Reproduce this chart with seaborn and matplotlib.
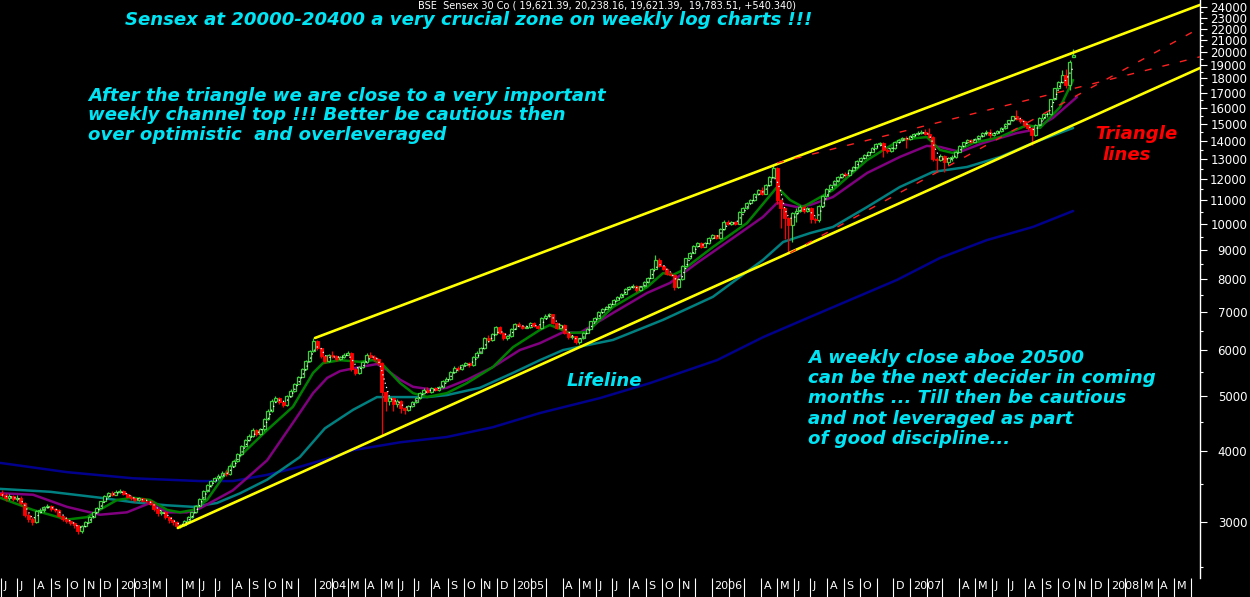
import numpy as np
import pandas as pd
import matplotlib
matplotlib.use("Agg")
import matplotlib.pyplot as plt
import matplotlib.transforms as mtransforms
from matplotlib.ticker import FixedLocator, FuncFormatter, NullFormatter
import seaborn as sns

# ---------------- data (weekly BSE Sensex) ----------------
start_week = "2002-06-03"
first_open = 3380
last_open = 19621.39

closes = [
    3350, 3300, 3330, 3290, 3310, 3240, 3090, 3040, 3000, 3140,
    3150, 3185, 3200, 3160, 3150, 3080, 3040, 3010, 2985, 2960,
    2895, 2950, 3000, 3060, 3120, 3180, 3260, 3330, 3370, 3350,
    3390, 3400, 3360, 3320, 3300, 3280, 3300, 3270, 3260, 3230,
    3160, 3110, 3130, 3060, 3020, 3000, 2950, 2960, 3010, 3060,
    3120, 3200, 3290, 3400, 3480, 3540, 3580, 3620, 3660, 3640,
    3760, 3840, 3950, 4080, 4180, 4250, 4350, 4280, 4360, 4550,
    4700, 4900, 4960, 4870, 4820, 5000, 5100, 5250, 5400, 5560,
    5750, 5980, 6230, 6050, 5870, 5740, 5900, 5860, 5800, 5840,
    5900, 5950, 5560, 5480, 5620, 5720, 5900, 5850, 5800, 5700,
    5070, 4900, 4950, 4830, 4900, 4750, 4720, 4800, 4880, 4950,
    5050, 5120, 5080, 5150, 5120, 5170, 5300, 5350, 5500, 5600,
    5560, 5650, 5700, 5650, 5850, 5950, 6050, 6300, 6250, 6400,
    6600, 6450, 6300, 6350, 6550, 6680, 6620, 6580, 6600, 6700,
    6620, 6560, 6850, 6900, 6950, 6700, 6580, 6650, 6450, 6330,
    6350, 6200, 6300, 6450, 6550, 6750, 6850, 7000, 7100, 7150,
    7250, 7350, 7450, 7550, 7700, 7750, 7800, 7650, 7780, 7900,
    8050, 8350, 8650, 8450, 8350, 8180, 8150, 7750, 8000, 8450,
    8700, 8900, 9150, 9250, 9120, 9250, 9450, 9550, 9450, 9800,
    10100, 10000, 10080, 10000, 10500, 10650, 10900, 11000, 11300, 11450,
    11300, 11700, 12100, 12550, 11000, 10650, 10250, 9950, 10450, 10550,
    10700, 10550, 10650, 10200, 10150, 10750, 11200, 11500, 11700, 11900,
    12100, 12250, 12200, 12450, 12600, 12900, 13050, 13200, 13400, 13600,
    13800, 13850, 13500, 13450, 13600, 13900, 14050, 14150, 14100, 14250,
    14400, 14450, 14500, 14400, 14200, 13000, 12950, 13150, 12850, 13050,
    13100, 13400, 13700, 13900, 14050, 13950, 14100, 14250, 14450, 14500,
    14300, 14450, 14550, 14750, 15000, 15200, 15450, 15300, 15150, 14900,
    14750, 14300, 14900, 15320, 15590, 15600, 16560, 17290, 17770, 18280,
    17560, 19243, 19783.51,
]
highs = [
    3420, 3370, 3360, 3350, 3340, 3330, 3250, 3110, 3060, 3150,
    3170, 3200, 3230, 3220, 3180, 3160, 3090, 3060, 3030, 3000,
    2970, 2960, 3010, 3070, 3130, 3190, 3270, 3340, 3390, 3400,
    3410, 3430, 3410, 3370, 3340, 3310, 3320, 3310, 3290, 3280,
    3240, 3170, 3150, 3140, 3070, 3040, 3010, 2980, 3020, 3070,
    3130, 3210, 3300, 3410, 3500, 3560, 3600, 3640, 3680, 3700,
    3780, 3860, 3970, 4100, 4200, 4280, 4380, 4360, 4380, 4570,
    4730, 4930, 4990, 4980, 4890, 5020, 5130, 5270, 5420, 5590,
    5780, 6010, 6300, 6250, 6070, 5900, 5920, 5980, 5880, 5870,
    5930, 5990, 5970, 5600, 5640, 5740, 5930, 5960, 5880, 5820,
    5720, 5100, 5000, 4970, 4930, 4920, 4780, 4820, 4900, 4980,
    5080, 5150, 5180, 5170, 5180, 5190, 5320, 5380, 5520, 5630,
    5640, 5680, 5730, 5730, 5870, 5980, 6080, 6330, 6380, 6430,
    6630, 6620, 6470, 6380, 6570, 6710, 6720, 6650, 6640, 6730,
    6720, 6640, 6880, 6950, 6990, 6960, 6720, 6680, 6670, 6470,
    6380, 6370, 6320, 6470, 6580, 6770, 6880, 7030, 7130, 7190,
    7280, 7380, 7480, 7580, 7730, 7790, 7840, 7830, 7800, 7930,
    8080, 8380, 8830, 8700, 8480, 8380, 8230, 8170, 8030, 8480,
    8730, 8930, 9180, 9300, 9280, 9280, 9480, 9600, 9580, 9830,
    10150, 10150, 10120, 10120, 10530, 10700, 10950, 11050, 11350, 11500,
    11600, 11750, 12150, 12700, 12600, 11050, 10700, 10300, 10500, 10650,
    10800, 10780, 10720, 10700, 10300, 10800, 11250, 11550, 11750, 11950,
    12150, 12300, 12350, 12500, 12650, 12950, 13100, 13250, 13450, 13650,
    13850, 13900, 13900, 13600, 13650, 13950, 14100, 14200, 14250, 14300,
    14450, 14550, 14600, 14650, 14720, 14250, 13100, 13250, 13200, 13100,
    13200, 13450, 13750, 13950, 14100, 14100, 14150, 14300, 14500, 14600,
    14700, 14500, 14600, 14800, 15050, 15250, 15500, 15850, 15400, 15200,
    14950, 14800, 14950, 15400, 15650, 15750, 16600, 17350, 17850, 18650,
    18700, 19400, 20238.16,
]
lows = [
    3320, 3270, 3280, 3260, 3270, 3220, 3060, 3000, 2960, 2990,
    3110, 3130, 3170, 3140, 3120, 3060, 3010, 2990, 2960, 2930,
    2860, 2870, 2940, 2990, 3050, 3110, 3170, 3250, 3310, 3330,
    3340, 3370, 3340, 3300, 3280, 3250, 3260, 3250, 3240, 3210,
    3140, 3080, 3090, 3040, 2990, 2970, 2930, 2930, 2950, 3000,
    3050, 3110, 3190, 3280, 3390, 3460, 3520, 3560, 3600, 3610,
    3630, 3740, 3830, 3940, 4060, 4160, 4230, 4240, 4260, 4340,
    4530, 4680, 4870, 4840, 4780, 4800, 4980, 5080, 5230, 5380,
    5540, 5730, 5960, 6000, 5830, 5700, 5720, 5830, 5760, 5770,
    5820, 5880, 5520, 5430, 5460, 5600, 5700, 5820, 5760, 5660,
    4270, 4700, 4820, 4700, 4780, 4660, 4650, 4700, 4780, 4860,
    4930, 5030, 5060, 5060, 5090, 5100, 5150, 5280, 5330, 5480,
    5530, 5540, 5630, 5620, 5630, 5830, 5930, 6030, 6200, 6230,
    6380, 6420, 6250, 6260, 6330, 6530, 6590, 6540, 6560, 6580,
    6590, 6530, 6540, 6830, 6880, 6670, 6550, 6560, 6400, 6290,
    6280, 6160, 6150, 6280, 6430, 6530, 6730, 6830, 6980, 7080,
    7130, 7230, 7330, 7430, 7530, 7680, 7730, 7610, 7630, 7760,
    7880, 8030, 8330, 8400, 8300, 8130, 8100, 7650, 7720, 7980,
    8430, 8680, 8880, 9120, 9080, 9100, 9230, 9420, 9400, 9430,
    9780, 9950, 9950, 9950, 9980, 10480, 10620, 10850, 10980, 11250,
    11250, 11280, 11680, 12050, 10850, 9850, 9400, 8930, 9300, 10100,
    10500, 10450, 10500, 10050, 10050, 10100, 10720, 11150, 11450, 11650,
    11850, 12050, 12100, 12150, 12400, 12550, 12850, 13000, 13150, 13350,
    13550, 13700, 13100, 13300, 13400, 13550, 13850, 14000, 13600, 14050,
    14200, 14350, 14400, 14350, 14150, 12900, 12400, 12900, 12320, 12700,
    12900, 13050, 13350, 13650, 13850, 13850, 13900, 14050, 14200, 14350,
    14150, 14250, 14400, 14500, 14700, 14950, 15150, 15250, 15050, 14800,
    14600, 13780, 14250, 14850, 15250, 15400, 15550, 16500, 17250, 17700,
    17350, 17150, 19621.39,
]

# moving averages (x = week number from start_week)
green_w = [-0.5, 8.2, 17.1, 22.4, 30.3, 34.5, 39.0, 43.5, 46.9, 50.3, 54.0, 60.8, 69.8,
           76.6, 81.9, 84.5, 89.0, 94.2, 97.7, 100.3, 104.8, 108.2, 111.9, 117.1, 122.4,
           129.2, 134.5, 141.6, 144.2, 149.5, 154.0, 160.8, 169.8, 174.0, 176.6, 179.2,
           187.1, 196.1, 204.0, 207.4, 210.8, 218.7, 227.7, 236.3, 243.4, 246.9, 250.3,
           255.6, 262.7, 269.8, 273.2, 278.5, 281.9]
green_v = [3310, 3150, 3030, 3060, 3280, 3310, 3280, 3150, 3120, 3150, 3280, 3810, 4350,
           4780, 5480, 5700, 5770, 5730, 5770, 5660, 5260, 5050, 4970, 5050, 5260,
           5610, 6080, 6520, 6650, 6440, 6460, 7150, 7750, 8200, 8140, 8300,
           9110, 10040, 11610, 11020, 10710, 11470, 12950, 14040, 14210, 13490, 13320,
           13870, 14210, 14920, 14740, 16040, 17890]
purple_w = [-0.5, 8.2, 17.1, 25.8, 32.9, 39.0, 43.5, 48.7, 52.1, 60.8, 69.8, 76.6, 81.9,
            85.6, 89.0, 94.2, 98.7, 100.3, 104.8, 108.2, 113.5, 117.1, 122.4, 129.2, 136.3,
            141.6, 147.7, 152.1, 160.8, 169.8, 175.8, 182.9, 191.6, 200.3, 204.0, 209.2,
            212.7, 218.7, 227.7, 236.3, 243.4, 246.9, 252.1, 258.2, 267.1, 271.3, 276.6,
            282.9]
purple_v = [3370, 3350, 3190, 3090, 3120, 3240, 3120, 3120, 3170, 3410, 3850, 4480, 5050,
            5370, 5520, 5610, 5680, 5610, 5330, 5180, 5120, 5160, 5330, 5610, 6010,
            6180, 6460, 6440, 6980, 7570, 7880, 8540, 9370, 10290, 10890, 10710,
            10800, 11150, 12290, 13110, 13710, 13650, 13380, 13870, 14440, 14620, 15350,
            16700]
teal_w = [-0.5, 12.7, 25.8, 34.5, 43.4, 50.3, 56.6, 62.7, 69.8, 78.4, 85.0, 92.4, 98.7,
          111.9, 117.1, 125.8, 134.5, 141.6, 147.7, 160.8, 174.0, 187.1, 200.3, 205.6,
          212.7, 218.7, 227.7, 236.3, 245.0, 254.0, 262.7, 271.3, 281.9]
teal_v = [3430, 3390, 3310, 3250, 3210, 3190, 3240, 3370, 3560, 3900, 4380, 4720, 4970,
          4970, 5010, 5160, 5480, 5770, 6010, 6260, 6790, 7450, 8650, 9300,
          9640, 9880, 10710, 11610, 12340, 12590, 13110, 13870, 14740]
navy_w = [-0.5, 17.1, 34.5, 52.1, 60.8, 69.8, 78.4, 87.1, 92.4, 104.8, 117.1, 129.2,
          141.6, 157.4, 170.6, 188.2, 200.3, 212.7, 235.6, 246.9, 259.2, 271.3, 281.9]
navy_v = [3810, 3670, 3580, 3540, 3540, 3630, 3750, 3900, 4010, 4140, 4230, 4400,
          4660, 4950, 5260, 5770, 6330, 6870, 7980, 8720, 9370, 9880, 10540]

# channel and triangle lines (anchor points)
upper_channel_w = [82.4, 315.3]
upper_channel_v = [6310, 24230]
lower_channel_w = [46.3, 315.3]
lower_channel_v = [2929, 18780]
tri_upper_w = [204.0, 315.3]
tri_upper_v = [12795, 19650]
tri_lower_w = [207.4, 315.3]
tri_lower_v = [8896, 22080]

month_labels = ["J", "J", "A", "S", "O", "N", "D",
                "2003", "", "M", "", "M", "J", "J", "A", "S", "O", "N", "",
                "2004", "", "M", "A", "M", "J", "J", "A", "S", "O", "N", "D",
                "2005", "", "", "A", "M", "J", "J", "A", "S", "O", "N", "",
                "2006", "", "", "A", "M", "J", "J", "A", "S", "O", "", "D",
                "2007", "", "", "A", "M", "J", "J", "A", "S", "O", "N", "D",
                "2008", "", "M", "A", "M", ""]
first_month = "2002-06-01"
y_major = list(range(3000, 24001, 1000))
y_minor = list(range(2500, 24000, 1000))

header = "BSE  Sensex 30 Co ( 19,621.39, 20,238.16, 19,621.39,  19,783.51, +540.340)"
title = "Sensex at 20000-20400 a very crucial zone on weekly log charts !!!"
note1 = ("After the triangle we are close to a very important\n"
         "weekly channel top !!! Better be cautious then\n"
         "over optimistic  and overleveraged")
note2 = ("A weekly close aboe 20500\n"
         "can be the next decider in coming\n"
         "months ... Till then be cautious\n"
         "and not leveraged as part\n"
         "of good discipline...")
lifeline = "Lifeline"
tri_text = ["Triangle", "lines"]

# ---------------- figure ----------------
sns.set_style("dark")
plt.rcParams["font.family"] = ["DejaVu Sans"]

W, H = 1250, 597
fig = plt.figure(figsize=(W / 100, H / 100), dpi=100, facecolor="black")
ax = fig.add_axes([0, 19 / H, 1200 / W, 578 / H], facecolor="black")
ax.set_yscale("log")

n = len(closes)
x = np.arange(n)
opens = [first_open] + closes[:-1]
opens[-1] = last_open
o = np.array(opens, float)
c = np.array(closes, float)
hi = np.array(highs, float)
lo = np.array(lows, float)
top = np.maximum(o, c)
bot = np.minimum(o, c)
up = c >= o

UP_COL = "#3ccf3c"
DN_COL = "#ff0000"

# moving averages
for wv, vv, col in [(navy_w, navy_v, "#00008c"), (teal_w, teal_v, "#008080"),
                    (purple_w, purple_v, "#800080"), (green_w, green_v, "#008000")]:
    sns.lineplot(x=wv, y=vv, ax=ax, color=col, linewidth=1.8, estimator=None,
                 sort=False, zorder=2)

# candles
ax.vlines(x[up], lo[up], bot[up], color=UP_COL, linewidth=0.9, zorder=3)
ax.vlines(x[up], top[up], hi[up], color=UP_COL, linewidth=0.9, zorder=3)
ax.vlines(x[~up], lo[~up], hi[~up], color=DN_COL, linewidth=0.9, zorder=3)
ax.bar(x[up], (top - bot)[up], bottom=bot[up], width=0.78, facecolor="black",
       edgecolor=UP_COL, linewidth=0.9, zorder=3)
ax.bar(x[~up], (top - bot)[~up], bottom=bot[~up], width=0.78, facecolor=DN_COL,
       edgecolor=DN_COL, linewidth=0.6, zorder=3)

# short average (white dotted)
short = pd.Series(c).rolling(3, min_periods=1).mean()
ax.plot(x, short, color="white", linewidth=0.9, linestyle=(0, (1, 2.5)), zorder=4)

# channel lines
sns.lineplot(x=upper_channel_w, y=upper_channel_v, ax=ax, color="#ffff00",
             linewidth=1.9, zorder=5)
sns.lineplot(x=lower_channel_w, y=lower_channel_v, ax=ax, color="#ffff00",
             linewidth=1.9, zorder=5)
# triangle lines
ax.plot(tri_upper_w, tri_upper_v, color="#ff2020", linewidth=1.0,
        linestyle=(0, (5, 8)), zorder=5)
ax.plot(tri_lower_w, tri_lower_v, color="#ff2020", linewidth=1.0,
        linestyle=(0, (5, 8)), zorder=5)

# axes limits
ax.set_xlim(-0.5, 315.3)
ax.set_ylim(2393, 24716)
if ax.get_legend():
    ax.get_legend().remove()
ax.set_xlabel("")
ax.set_ylabel("")
ax.grid(False)

# y axis on the right
ax.yaxis.tick_right()
ax.yaxis.set_major_locator(FixedLocator(y_major))
ax.yaxis.set_minor_locator(FixedLocator(y_minor))
ax.yaxis.set_major_formatter(FuncFormatter(lambda v, p: f"{int(round(v))}"))
ax.yaxis.set_minor_formatter(NullFormatter())
ax.tick_params(axis="y", which="major", direction="out", length=5, width=0.8,
               colors="white", labelsize=8.5, pad=29, right=True, left=False)
ax.tick_params(axis="y", which="minor", direction="out", length=2.5, width=0.8,
               colors="white", right=True, left=False)
for lab in ax.get_yticklabels():
    lab.set_horizontalalignment("right")

for s in ["left", "top", "bottom"]:
    ax.spines[s].set_visible(False)
ax.spines["right"].set_color("white")
ax.spines["right"].set_linewidth(1.0)

# month separators + labels
start = pd.Timestamp(start_week)
months = pd.date_range(first_month, periods=len(month_labels), freq="MS")
mpos = np.array([(m - start).days / 7.0 for m in months])
ax.xaxis.set_major_locator(FixedLocator(mpos))
ax.tick_params(axis="x", which="major", direction="out", length=14, width=0.8,
               colors="white", labelbottom=False, bottom=True)
ax.tick_params(axis="x", which="minor", length=0)
trans = mtransforms.blended_transform_factory(ax.transData, ax.transAxes)
for pos, lab in zip(mpos, month_labels):
    if lab:
        ax.text(pos + 0.7, -0.006, lab, transform=trans, ha="left", va="top",
                color="white", fontsize=8, clip_on=False)

# texts
cyan = "#00e5f5"
fs = 13.1
tkw = dict(color=cyan, fontsize=fs, fontweight="bold", fontstyle="italic")
fig.text(607 / W, 1 - 6 / H, header, color="white", fontsize=7, ha="center",
         va="center")
fig.text(125 / W, 1 - 20 / H, title, ha="left", va="center", **tkw)
fig.text(88 / W, 1 - 87 / H, note1, ha="left", va="top", linespacing=1.1, **tkw)
fig.text(567 / W, 1 - 381 / H, lifeline, ha="left", va="center", **tkw)
fig.text(808 / W, 1 - 349 / H, note2, ha="left", va="top", linespacing=1.16, **tkw)
fig.text(1095 / W, 1 - 134 / H, tri_text[0], ha="left", va="center", color="#ff0000",
         fontsize=fs, fontweight="bold", fontstyle="italic")
fig.text(1102 / W, 1 - 155 / H, tri_text[1], ha="left", va="center", color="#ff0000",
         fontsize=fs, fontweight="bold", fontstyle="italic")

fig.savefig("out.png", dpi=100, facecolor="black")
